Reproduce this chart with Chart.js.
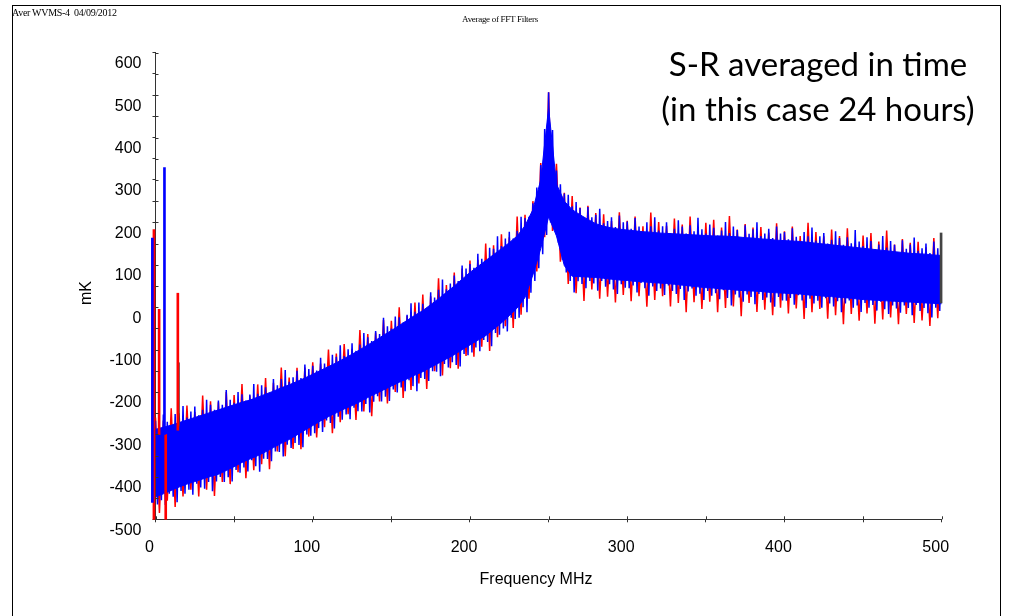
<!DOCTYPE html>
<html><head><meta charset="utf-8">
<script src="https://cdn.jsdelivr.net/npm/chart.js@4.4.1/dist/chart.umd.min.js"></script>
<style>
html,body{margin:0;padding:0;background:#fff;}
#wrap{position:relative;width:1009px;height:616px;overflow:hidden;background:#fff;}
canvas{position:absolute;left:0;top:0;}
#frame{position:absolute;left:12px;top:5px;width:989px;height:700px;border:1px solid #000;box-sizing:border-box;pointer-events:none;}
.t{position:absolute;white-space:nowrap;color:#000;}
#meta{left:12px;top:7px;font:10px "Liberation Serif";letter-spacing:-0.3px;}
#title{left:400px;width:200px;text-align:center;top:14px;font:9px "Liberation Serif";letter-spacing:-0.3px;}
#note{left:618px;width:400px;text-align:center;top:41px;font:33px Lato;line-height:45px;}
#ylab{left:86px;top:293px;transform:translate(-50%,-50%) rotate(-90deg);font:16px "Liberation Sans";}
#xlab{left:536px;top:579px;transform:translate(-50%,-50%);font:16px "Liberation Sans";}
</style></head><body>
<div id="wrap">
<canvas id="c" width="1009" height="616"></canvas>
<div id="frame"></div>
<div class="t" id="meta">Aver WVMS-4&nbsp; 04/09/2012</div>
<div class="t" id="title">Average of FFT Filters</div>
<div class="t" id="note">S-R averaged in time<br>(in this case 24 hours)</div>
<div class="t" id="ylab">mK</div>
<div class="t" id="xlab">Frequency MHz</div>
</div>
<script>
// ================= data (mK) =================
// Blue series: upward and downward noise tips, one pair every 2.5 MHz (0..500 MHz)
const bandStep = 2.5;
const blueTop = [
-268,-282,-253,-270,-278,-252,-258,-233,-260,-246,-234,-255,-242,-218,-230,-242,-220,-230,-195,-218,
-225,-200,-205,-220,-206,-181,-204,-184,-189,-202,-169,-184,-169,-148,-176,-165,-150,-167,-135,-146,
-138,-149,-119,-133,-140,-112,-117,-90,-115,-99,-85,-103,-88,-61,-71,-80,-56,-63,-25,-45,
-50,-22,-24,-36,-18,9,-11,11,8,-2,35,23,41,65,42,56,75,62,98,91,
102,93,126,114,110,140,138,167,144,162,178,162,180,213,210,213,245,282,335,420,
507,418,322,290,268,265,238,248,234,211,236,212,218,232,198,203,212,189,216,200,
202,185,210,190,178,200,191,212,181,191,200,175,185,205,190,174,193,179,211,184,
174,195,187,169,181,201,175,190,182,164,193,173,184,200,168,174,185,163,190,174,
177,160,186,166,155,177,167,188,157,167,175,150,159,179,163,147,165,151,182,155,
144,165,156,137,148,168,141,156,147,129,158,138,148,164,133,139,150,128,155,139,
150];
const blueBottom = [
-465,-455,-466,-440,-447,-460,-433,-440,-430,-442,-416,-425,-428,-412,-434,-411,-400,-412,-401,-411,
-384,-390,-378,-387,-361,-375,-388,-357,-358,-363,-340,-341,-352,-324,-332,-320,-325,-330,-300,-303,
-297,-285,-294,-267,-273,-286,-258,-265,-253,-264,-237,-245,-246,-228,-248,-223,-210,-222,-211,-221,
-194,-201,-189,-198,-172,-186,-198,-167,-169,-174,-151,-152,-163,-134,-142,-130,-136,-140,-110,-113,
-107,-95,-104,-77,-82,-92,-61,-65,-50,-57,-25,-28,-25,0,-12,34,62,92,125,170,
200,185,152,112,82,62,35,61,55,45,62,56,39,62,48,54,42,31,54,46,
45,51,35,57,45,27,49,38,44,29,51,38,31,43,17,37,44,27,32,17,
38,27,33,19,40,22,4,30,23,13,30,24,7,31,17,23,11,1,24,16,
15,22,6,28,16,-2,20,9,15,-1,21,9,2,14,-12,9,16,-1,4,-11,
10,-1,5,-8,13,-5,-16,4,-3,-13,4,-2,-19,5,-9,-2,-14,-24,-1,-9,
10];
// Blue series: dense core of the band, every 5 MHz (0..500 MHz)
const coreStep = 5;
const blueCoreTop = [
-288,-283,-278,-272,-266,-260,-254,-248,-242,-236,
-230,-224,-219,-212,-205,-198,-190,-183,-175,-167,
-158,-149,-140,-131,-121,-111,-100,-89,-78,-66,
-55,-43,-31,-19,-8,6,20,35,50,66,
82,96,110,124,138,152,168,192,230,300,
470,290,250,230,218,207,197,191,187,184,
182,180,178,177,175,174,173,172,171,170,
169,168,168,167,166,164,163,161,160,158,
157,156,155,153,151,149,147,145,143,141,
139,137,135,133,131,129,127,126,125,123,
122];
const blueCoreBottom = [
-447,-440,-432,-424,-417,-411,-405,-399,-394,-385,
-376,-366,-358,-350,-341,-331,-321,-312,-301,-290,
-279,-268,-258,-249,-240,-232,-223,-213,-204,-195,
-186,-177,-169,-160,-152,-142,-132,-122,-112,-100,
-89,-78,-67,-52,-37,-20,-2,23,76,138,
213,168,98,73,72,71,70,68,66,64,
63,61,60,58,57,56,54,52,50,48,
46,45,43,42,40,39,38,37,35,34,
33,32,31,29,28,26,25,23,22,20,
18,17,16,15,14,13,12,11,10,9,
8];
// Red series: highs every 5 MHz (0..500) and lows half-way between them (2.5..497.5)
const redStep = 5;
const redHigh = [
-260,-267,-238,-250,-232,-247,-208,-222,-224,-200,
-207,-181,-208,-182,-167,-178,-142,-166,-143,-142,
-130,-133,-100,-109,-87,-98,-54,-63,-60,-30,
-32,0,-20,11,30,26,68,52,82,91,
110,112,150,146,172,165,214,218,250,340,
507,338,270,262,235,239,222,219,203,224,
204,214,191,223,201,192,209,195,214,181,
199,206,188,215,183,196,188,189,176,198,
179,190,168,199,177,167,183,168,186,152,
169,175,155,181,148,161,152,154,141,163,
175];
const redLow = [
-485,-456,-471,-446,-430,-446,-430,-445,-412,-417,
-389,-403,-384,-370,-382,-340,-351,-334,-335,-305,
-307,-283,-297,-271,-252,-266,-246,-257,-222,-227,
-200,-214,-195,-180,-193,-151,-161,-144,-145,-115,
-117,-93,-103,-71,-45,-49,-18,20,84,165,
180,107,55,33,15,42,20,25,11,29,
14,26,1,17,26,2,10,-12,12,-4,
13,-12,-2,2,-21,10,-11,-6,-19,-1,
-15,-3,-28,-12,-4,-27,-19,-40,-16,-32,
-15,-39,-29,-24,-40,-16,-37,-31,-44,-26];
// isolated spikes: frequency (MHz), low and high end (mK)
const redSpikeFreq = [-1, 2.3, 6.5, 14.2];
const redSpikeLow  = [-500, -300, -500, -290];
const redSpikeHigh = [183, -5, -300, 33];
const blueSpikeFreq = [-2, 5.7];
const blueSpikeLow  = [-460, -300];
const blueSpikeHigh = [163, 329];
const blackSpikeFreq = [14.6, 499.6];
const blackSpikeLow  = [-280, 10];
const blackSpikeHigh = [-131, 175];
// axis tick labels
const xTicks = [0, 100, 200, 300, 400, 500];
const yTicks = [-500, -400, -300, -200, -100, 0, 100, 200, 300, 400, 500, 600];

// ================= build datasets =================
const BLUE = '#0000ff', RED = '#ff0000';
function zigzag(highs, lows, step) {
  const pts = [];
  highs.forEach((v, i) => {
    pts.push({x: i * step, y: v});
    if (i < lows.length) pts.push({x: i * step + step / 2, y: lows[i]});
  });
  return pts;
}
const onGrid = (arr, step) => arr.map((v, i) => ({x: i * step, y: v}));
const spikes = (f, lo, hi) => f.map((x, i) => ({x, y: [lo[i], hi[i]]}));
const barCommon = {type: 'bar', barThickness: 2, grouped: false, clip: false, borderWidth: 0};

const datasets = [
  Object.assign({data: spikes(blueSpikeFreq, blueSpikeLow, blueSpikeHigh), backgroundColor: BLUE}, barCommon),
  Object.assign({data: spikes(redSpikeFreq, redSpikeLow, redSpikeHigh), backgroundColor: RED}, barCommon),
  Object.assign({data: spikes(blackSpikeFreq, blackSpikeLow, blackSpikeHigh), backgroundColor: '#444'}, barCommon),
  {type: 'line', data: zigzag(blueTop, blueBottom.slice(0, blueTop.length - 1), bandStep), borderColor: BLUE, borderWidth: 1.5, fill: false, pointRadius: 0},
  {type: 'line', data: onGrid(blueCoreTop, coreStep), borderColor: BLUE, backgroundColor: BLUE, borderWidth: 1, fill: '+1', pointRadius: 0},
  {type: 'line', data: onGrid(blueCoreBottom, coreStep), borderColor: BLUE, borderWidth: 1, fill: false, pointRadius: 0},
  {type: 'line', data: zigzag(redHigh, redLow, redStep), borderColor: RED, borderWidth: 1.5, fill: false, pointRadius: 0}
];

// short tick marks on the inner side of both axes (ticks cross the axis lines)
const innerTicks = {
  id: 'innerTicks',
  afterDraw(chart) {
    const {ctx, chartArea: a, scales: {x, y}} = chart;
    ctx.save();
    ctx.strokeStyle = '#333';
    ctx.lineWidth = 1;
    ctx.beginPath();
    x.ticks.forEach(t => { const p = Math.round(x.getPixelForValue(t.value)) + 0.5; ctx.moveTo(p, a.bottom); ctx.lineTo(p, a.bottom - 3); });
    y.ticks.forEach(t => { const p = Math.round(y.getPixelForValue(t.value)) + 0.5; ctx.moveTo(a.left, p); ctx.lineTo(a.left + 3, p); });
    ctx.stroke();
    ctx.restore();
  }
};

const tickFont = {family: 'Liberation Sans', size: 16};
const labelCb = list => v => list.includes(v) ? String(v) : '';

new Chart(document.getElementById('c'), {
  type: 'line',
  data: {datasets},
  plugins: [innerTicks],
  options: {
    responsive: false,
    animation: false,
    events: [],
    layout: {padding: {left: 0, right: 67.3, top: 52.7, bottom: 0}},
    plugins: {legend: {display: false}, tooltip: {enabled: false}, title: {display: false}},
    elements: {point: {radius: 0}, line: {tension: 0}},
    scales: {
      x: {
        type: 'linear', min: 0, max: 500, offset: false,
        afterFit: s => { s.height = 96.7; },
        grid: {display: true, drawOnChartArea: false, drawTicks: true, tickLength: 3, color: '#333', offset: false},
        border: {display: true, color: '#333', width: 1},
        ticks: {stepSize: 50, autoSkip: false, maxRotation: 0, padding: 16, labelOffset: -6,
                color: '#000', font: tickFont, callback: labelCb(xTicks)}
      },
      y: {
        type: 'linear', min: -500, max: 600,
        afterFit: s => { s.width = 155.5; },
        grid: {display: true, drawOnChartArea: false, drawTicks: true, tickLength: 3, color: '#333'},
        border: {display: true, color: '#333', width: 1},
        ticks: {stepSize: 50, autoSkip: false, padding: 11, labelOffset: 11,
                color: '#000', font: tickFont, callback: labelCb(yTicks)}
      }
    }
  }
});
</script>
</body></html>
